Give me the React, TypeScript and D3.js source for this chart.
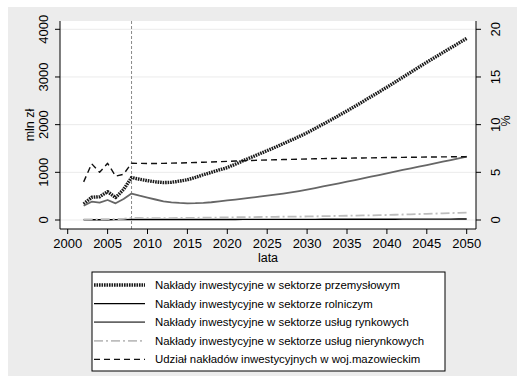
import * as d3 from 'd3';

const YEARS = d3.range(2002, 2051);

// mln zł
const INDUSTRY = [
  335, 476, 489, 594, 470, 640, 890, 855, 825, 800,
  785, 790, 815, 845, 895, 950, 1000, 1050, 1100, 1170,
  1245, 1315, 1385, 1455, 1525, 1600, 1675, 1750, 1830, 1920,
  2010, 2100, 2195, 2290, 2385, 2485, 2585, 2685, 2785, 2890,
  2995, 3100, 3205, 3310, 3410, 3510, 3610, 3710, 3810,
];
const AGRICULTURE = [
  5, 5, 6, 6, 7, 8, 10, 10, 10, 10,
  11, 11, 11, 11, 12, 12, 12, 12, 12, 12,
  13, 13, 13, 13, 13, 14, 14, 14, 14, 14,
  15, 15, 15, 16, 16, 16, 17, 17, 17, 17,
  18, 18, 18, 19, 19, 19, 19, 20, 20,
];
const MARKET_SERVICES = [
  300, 384, 363, 420, 350, 440, 555, 510, 470, 430,
  390, 370, 358, 350, 352, 360, 372, 390, 410, 428,
  448, 468, 490, 510, 532, 555, 580, 608, 638, 670,
  703, 736, 769, 803, 838, 873, 908, 943, 979, 1014,
  1049, 1084, 1119, 1153, 1188, 1223, 1258, 1293, 1328,
];
const NONMARKET_SERVICES = [
  10, 12, 15, 18, 20, 25, 45, 42, 40, 40,
  40, 41, 42, 44, 46, 48, 50, 52, 55, 57,
  59, 61, 63, 65, 67, 69, 70, 72, 74, 77,
  80, 83, 86, 89, 92, 95, 98, 101, 105, 110,
  115, 120, 125, 130, 135, 140, 145, 150, 155,
];
// %
const SHARE = [
  4.0, 5.9, 5.0, 5.95, 4.6, 4.8, 5.95, 5.94, 5.93, 5.93,
  5.94, 5.96, 5.98, 6.0, 6.03, 6.06, 6.09, 6.12, 6.15, 6.18,
  6.21, 6.24, 6.27, 6.3, 6.32, 6.34, 6.36, 6.38, 6.4, 6.42,
  6.44, 6.45, 6.47, 6.48, 6.5, 6.51, 6.52, 6.54, 6.55, 6.56,
  6.57, 6.58, 6.59, 6.6, 6.61, 6.62, 6.63, 6.63, 6.64,
];

const X_TICKS = d3.range(2000, 2051, 5);
const Y_TICKS = [0, 1000, 2000, 3000, 4000];
const Y2_TICKS = [0, 5, 10, 15, 20];

const LEGEND = [
  'Nakłady inwestycyjne w sektorze przemysłowym',
  'Nakłady inwestycyjne w sektorze rolniczym',
  'Nakłady inwestycyjne w sektorze usług rynkowych',
  'Nakłady inwestycyjne w sektorze usług nierynkowych',
  'Udział nakładów inwestycyjnych w woj.mazowieckim',
];

const STYLES = [
  { stroke: '#1a1a1a', width: 3.4, dash: '1.6,0.9' },
  { stroke: '#000000', width: 1.4, dash: '' },
  { stroke: '#666666', width: 1.8, dash: '' },
  { stroke: '#bdbdbd', width: 1.8, dash: '9,3,2,3' },
  { stroke: '#111111', width: 1.4, dash: '6,4' },
];

const FONT = '"Liberation Sans", Arial, sans-serif';

export default function App() {
  const left = 60, right = 476, top = 21, bottom = 229;
  const x = d3.scaleLinear().domain([2000, 2050]).range([67.7, 466.7]);
  const y = d3.scaleLinear().domain([0, 4000]).range([220, 29.3]);
  const y2 = d3.scaleLinear().domain([0, 20]).range([220, 29.3]);

  const line = d3.line<number>().x((_, i) => x(YEARS[i])).y((d) => y(d));
  const line2 = d3.line<number>().x((_, i) => x(YEARS[i])).y((d) => y2(d));

  const paths = [
    line(INDUSTRY),
    line(AGRICULTURE),
    line(MARKET_SERVICES),
    line(NONMARKET_SERVICES),
    line2(SHARE),
  ];

  const legX = 92, legY = 272, legW = 353, legH = 99;

  return (
    <svg
      width={525}
      height={384}
      style={{ position: 'absolute', left: 0, top: 0 }}
      fontFamily={FONT}
    >
      <rect x={0} y={0} width={525} height={384} fill="#ffffff" />
      <rect x={8} y={7} width={509} height={369} fill="#ececec" />
      <rect x={left} y={top} width={right - left} height={bottom - top} fill="#ffffff" />

      {/* grid */}
      {Y_TICKS.map((t) => (
        <line key={t} x1={left} x2={right} y1={y(t)} y2={y(t)} stroke="#ebebeb" strokeWidth={1} />
      ))}

      {/* 2008 marker */}
      <line x1={x(2008)} x2={x(2008)} y1={top} y2={bottom} stroke="#8a8a8a" strokeWidth={1} strokeDasharray="3,2" />

      {/* series */}
      {paths.map((p, i) => (
        <path
          key={i}
          d={p ?? ''}
          fill="none"
          stroke={STYLES[i].stroke}
          strokeWidth={STYLES[i].width}
          strokeDasharray={STYLES[i].dash || undefined}
          strokeLinejoin="round"
        />
      ))}

      {/* axes */}
      <line x1={left} x2={left} y1={top} y2={bottom} stroke="#000" strokeWidth={1} />
      <line x1={right} x2={right} y1={top} y2={bottom} stroke="#000" strokeWidth={1} />
      <line x1={left} x2={right} y1={bottom} y2={bottom} stroke="#000" strokeWidth={1} />

      {Y_TICKS.map((t) => (
        <g key={t}>
          <line x1={left - 5} x2={left} y1={y(t)} y2={y(t)} stroke="#000" />
          <text
            transform={`translate(43,${y(t)}) rotate(-90)`}
            textAnchor="middle"
            dominantBaseline="central"
            fontSize={13}
            fill="#000"
          >
            {t}
          </text>
        </g>
      ))}
      {Y2_TICKS.map((t) => (
        <g key={t}>
          <line x1={right} x2={right + 5} y1={y2(t)} y2={y2(t)} stroke="#000" />
          <text
            transform={`translate(495,${y2(t)}) rotate(-90)`}
            textAnchor="middle"
            dominantBaseline="central"
            fontSize={13}
            fill="#000"
          >
            {t}
          </text>
        </g>
      ))}
      {X_TICKS.map((t) => (
        <g key={t}>
          <line x1={x(t)} x2={x(t)} y1={bottom} y2={bottom + 5} stroke="#000" />
          <text x={x(t)} y={248} textAnchor="middle" fontSize={13} fill="#000">
            {t}
          </text>
        </g>
      ))}

      {/* axis titles */}
      <text x={268} y={262} textAnchor="middle" fontSize={12.5} fill="#000">lata</text>
      <text transform="translate(30,125) rotate(-90)" textAnchor="middle" dominantBaseline="central" fontSize={12.5} fill="#000">
        mln zł
      </text>
      <text transform="translate(506,121) rotate(-90)" textAnchor="middle" dominantBaseline="central" fontSize={12.5} fill="#000">
        %
      </text>

      {/* legend */}
      <rect x={legX} y={legY} width={legW} height={legH} fill="#ffffff" stroke="#000" strokeWidth={1} />
      {LEGEND.map((label, i) => {
        const ry = 285 + i * 18.6;
        return (
          <g key={label}>
            <line
              x1={94}
              x2={145}
              y1={ry}
              y2={ry}
              stroke={STYLES[i].stroke}
              strokeWidth={STYLES[i].width}
              strokeDasharray={STYLES[i].dash || undefined}
            />
            <text x={155} y={ry} dominantBaseline="central" fontSize={11.4} fill="#000">
              {label}
            </text>
          </g>
        );
      })}
    </svg>
  );
}
